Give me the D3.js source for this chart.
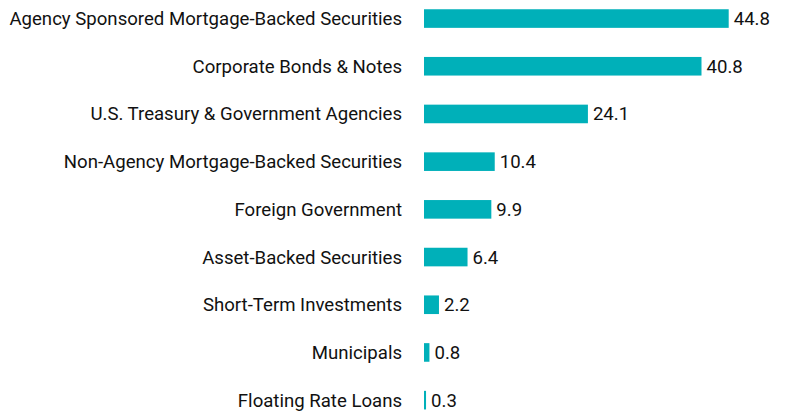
<!DOCTYPE html>
<html><head><meta charset="utf-8">
<script src="https://cdn.jsdelivr.net/npm/d3@7"></script>
<style>body{margin:0;background:#fff}svg{display:block}</style>
</head><body><svg id="c" width="792" height="420"></svg>
<script>
const categories = ["Agency Sponsored Mortgage-Backed Securities","Corporate Bonds & Notes","U.S. Treasury & Government Agencies","Non-Agency Mortgage-Backed Securities","Foreign Government","Asset-Backed Securities","Short-Term Investments","Municipals","Floating Rate Loans"];
const values = [44.8,40.8,24.1,10.4,9.9,6.4,2.2,0.8,0.3];
const labels = ["44.8","40.8","24.1","10.4","9.9","6.4","2.2","0.8","0.3"];

const svg = d3.select("#c");
const x0 = 424;
const x = d3.scaleLinear().domain([0,44.8]).range([x0, 728.7]);
const y = d3.scaleBand().domain(categories).range([-5.3, 424]).paddingInner(0.61).paddingOuter(0.305);
const font = "Roboto, sans-serif";
const fs = 18.6;

svg.append("g").selectAll("rect").data(values).join("rect")
  .attr("x", x(0)).attr("y", (d,i)=>y(categories[i]))
  .attr("width", d=>x(d)-x(0)).attr("height", y.bandwidth())
  .attr("fill", "#00b0b9");

svg.append("g").selectAll("text").data(categories).join("text")
  .attr("x", 402).attr("y", d=>y(d)+y.bandwidth()/2).attr("dy","0.35em")
  .attr("text-anchor","end").attr("font-family",font).attr("font-size",fs).attr("fill","#111")
  .text(d=>d);

svg.append("g").selectAll("text").data(values).join("text")
  .attr("x", d=>x(d)+5).attr("y", (d,i)=>y(categories[i])+y.bandwidth()/2).attr("dy","0.35em")
  .attr("font-family",font).attr("font-size",fs).attr("fill","#111")
  .text((d,i)=>labels[i]);
</script></body></html>
